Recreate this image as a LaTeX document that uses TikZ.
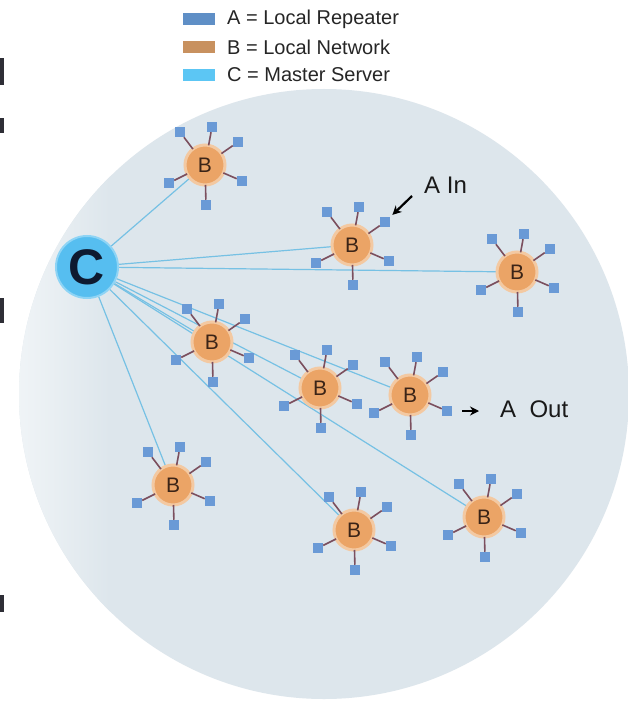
\documentclass[tikz,border=0pt]{standalone}
\usepackage{fontspec}
\setmainfont{Liberation Sans}
\usetikzlibrary{calc,arrows.meta}
\definecolor{bgcirc}{HTML}{DDE6EC}
\definecolor{linkc}{HTML}{76C1E4}
\definecolor{sqc}{HTML}{6A9AD6}
\definecolor{bfill}{HTML}{EBA466}
\definecolor{bglow}{HTML}{F3C9A2}
\definecolor{spokec}{HTML}{7B4F5E}
\definecolor{cfill}{HTML}{56BEF0}
\definecolor{cglow}{HTML}{8ED4F5}
\definecolor{ctext}{HTML}{0E1A30}
\definecolor{btext}{HTML}{3B2417}
\definecolor{legA}{HTML}{5F8FC6}
\definecolor{legB}{HTML}{C8915F}
\definecolor{legC}{HTML}{5CC6F4}
\definecolor{fragc}{HTML}{2E2E36}
\pgfdeclarelayer{bg}
\pgfdeclarelayer{lines}
\pgfsetlayers{bg,lines,main}
\tikzset{
  bnode/.style={circle, fill=bfill, draw=bglow, line width=3pt, minimum size=40pt,
    inner sep=0pt, outer sep=0pt, text=btext, font=\fontsize{21}{21}\selectfont},
  rep/.style={rectangle, fill=sqc, minimum size=10.5pt, inner sep=0pt, outer sep=0pt},
  spoke/.style={draw=spokec, line width=1.6pt},
  link/.style={draw=linkc, line width=1.2pt},
  cnode/.style={circle, fill=cfill, draw=cglow, line width=2pt, minimum size=62pt,
    inner sep=0pt, text=ctext, font=\bfseries\fontsize{50}{50}\selectfont},
  legbox/.style={rectangle, minimum width=32pt, minimum height=12pt, inner sep=0pt},
  legtext/.style={anchor=west, inner sep=0pt, text=black!85, font=\fontsize{20}{22}\selectfont},
  atext/.style={anchor=west, inner sep=0pt, text=black!90, font=\fontsize{24}{26}\selectfont},
  arr/.style={draw=black, line width=2.2pt, -{Stealth[length=9pt,width=9pt]}}
}
\newcommand{\bnet}[3]{%
  \node[bnode] (#1) at (#2,#3) {B};
  \foreach \i/\dx/\dy in {1/-25/-33,2/7/-38,3/33/-23,4/37/16,5/1/40,6/-36/18}{
    \node[rep] (#1-\i) at ($(#1)+(\dx,\dy)$) {};
    \draw[spoke] (#1) -- (#1-\i);
  }}
\begin{document}
\begin{tikzpicture}[x=1pt,y=-1pt]
\useasboundingbox (0,0) rectangle (628,703);
\begin{pgfonlayer}{bg}
  \fill[white] (0,0) rectangle (628,703);
  \fill[bgcirc] (324,394) circle (305pt);
  \begin{scope}
    \clip (324,394) circle (305pt);
    \shade[left color=bgcirc!45!white, right color=bgcirc] (19,150) rectangle (110,640);
  \end{scope}
  % cropped fragments of neighbouring text at the left edge
  \fill[fragc] (0,58) rectangle (3.5,85);
  \fill[fragc] (0,118) rectangle (3.5,133);
  \fill[fragc] (0,298) rectangle (3.5,323);
  \fill[fragc] (0,595) rectangle (3.5,612);
\end{pgfonlayer}

% legend
\node[legbox, fill=legA] (lega) at (199,19) {};
\node[legbox, fill=legB] (legb) at (199,47) {};
\node[legbox, fill=legC] (legc) at (199,75) {};
\node[legtext] (lta) at (227,19) {A = Local Repeater};
\node[legtext] (ltb) at (227,47) {B = Local Network};
\node[legtext] (ltc) at (227,75) {C = Master Server};

% master server
\node[cnode] (c) at (87,267) {C};

% local networks
\bnet{b1}{205}{165}
\bnet{b2}{352}{245}
\bnet{b3}{517}{272}
\bnet{b4}{212}{342}
\bnet{b5}{320}{388}
\bnet{b6}{410}{395}
\bnet{b7}{173}{485}
\bnet{b8}{354}{530}
\bnet{b9}{484}{517}

\begin{pgfonlayer}{lines}
  \foreach \b in {b1,b2,b3,b4,b5,b6,b7,b8,b9}{
    \draw[link] (c) -- (\b);
  }
\end{pgfonlayer}

% A In / A Out
\node[atext] (ain) at (424,185) {A In};
\coordinate (ainstart) at (412,196);
\draw[arr, shorten >=3pt] (ainstart) -- (b2-3);
\node[atext] (aout) at (500,409) {A~~Out};
\coordinate (aoutend) at ($(b6-4)+(32,0)$);
\draw[arr, shorten <=10pt] (b6-4) -- (aoutend);
\end{tikzpicture}
\end{document}
